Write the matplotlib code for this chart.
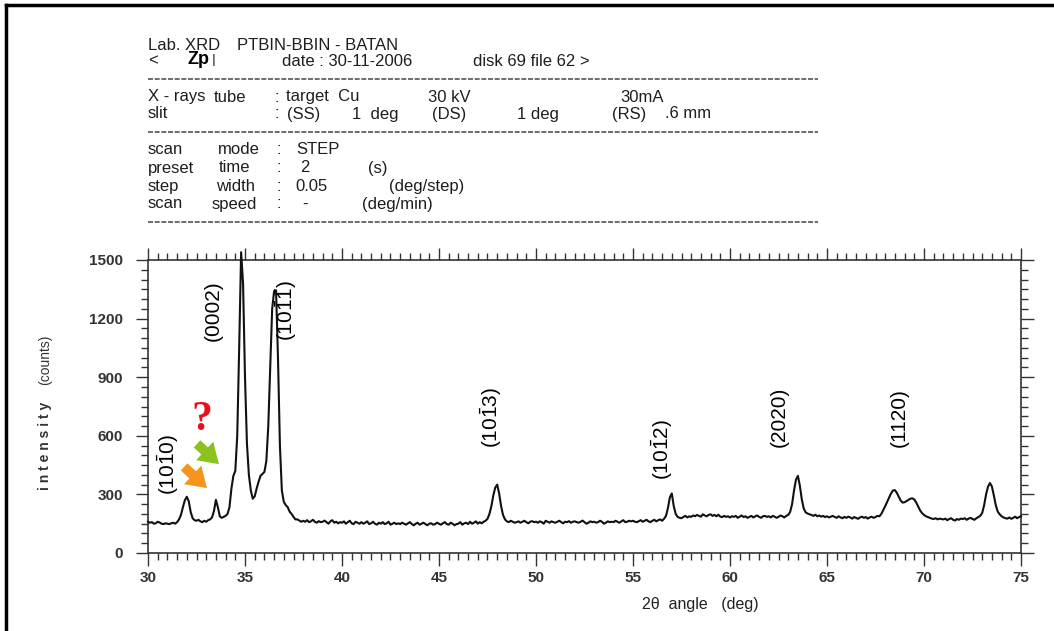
import numpy as np
import matplotlib
matplotlib.use("Agg")
import matplotlib.pyplot as plt
from matplotlib.ticker import MultipleLocator

plt.rcParams['font.family'] = ['Liberation Sans', 'DejaVu Sans']
plt.rcParams['mathtext.fontset'] = 'custom'
plt.rcParams['mathtext.rm'] = 'Liberation Sans'

# ---------------- data ----------------
angle_start = 30.0
angle_step = 0.1
intensity = [
    # 30.0 - 30.9
    160, 155, 158, 150, 152, 160, 156, 150, 148, 152,
    # 31.0 - 31.9
    150, 148, 152, 155, 150, 158, 172, 195, 235, 270,
    # 32.0 - 32.9
    288, 265, 210, 178, 168, 165, 170, 162, 158, 165,
    # 33.0 - 33.9
    160, 168, 172, 182, 215, 272, 235, 188, 180, 185,
    # 34.0 - 34.9
    190, 200, 235, 330, 395, 420, 600, 1050, 1540, 1380,
    # 35.0 - 35.9
    900, 560, 400, 320, 278, 290, 330, 365, 395, 405,
    # 36.0 - 36.9
    415, 470, 650, 950, 1250, 1340, 1345, 1000, 550, 320,
    # 37.0 - 37.9
    262, 245, 235, 212, 200, 185, 172, 172, 166, 160,
    # 38.0 - 38.9
    165, 160, 168, 158, 162, 170, 160, 155, 163, 158,
    # 39.0 - 39.9
    160, 166, 158, 150, 162, 168, 155, 160, 152, 158,
    # 40.0 - 40.9
    155, 162, 150, 158, 165, 152, 148, 160, 155, 150,
    # 41.0 - 41.9
    158, 150, 155, 162, 148, 152, 160, 150, 145, 155,
    # 42.0 - 42.9
    150, 158, 148, 152, 160, 145, 150, 155, 148, 152,
    # 43.0 - 43.9
    148, 155, 150, 145, 152, 158, 148, 142, 150, 155,
    # 44.0 - 44.9
    145, 150, 155, 148, 142, 150, 152, 145, 148, 155,
    # 45.0 - 45.9
    150, 145, 152, 158, 148, 145, 155, 150, 142, 148,
    # 46.0 - 46.9
    150, 158, 145, 152, 155, 148, 160, 150, 155, 162,
    # 47.0 - 47.9
    150, 158, 152, 160, 165, 175, 200, 240, 295, 335,
    # 48.0 - 48.9
    350, 305, 240, 195, 172, 162, 158, 165, 160, 155,
    # 49.0 - 49.9
    158, 162, 155, 160, 165, 158, 152, 160, 163, 158,
    # 50.0 - 50.9
    160, 155, 162, 158, 150, 165, 160, 155, 162, 158,
    # 51.0 - 51.9
    155, 160, 165, 158, 152, 160, 158, 163, 155, 160,
    # 52.0 - 52.9
    162, 158, 155, 160, 166, 158, 150, 155, 162, 158,
    # 53.0 - 53.9
    160, 155, 158, 165, 160, 150, 155, 162, 158, 160,
    # 54.0 - 54.9
    158, 165, 160, 155, 162, 168, 158, 160, 165, 162,
    # 55.0 - 55.9
    165, 160, 158, 163, 168, 160, 165, 170, 162, 158,
    # 56.0 - 56.9
    165, 170, 162, 168, 172, 165, 175, 190, 230, 285,
    # 57.0 - 57.9
    305, 240, 200, 185, 180, 178, 185, 190, 182, 188,
    # 58.0 - 58.9
    185, 192, 188, 195, 190, 186, 198, 192, 188, 195,
    # 59.0 - 59.9
    198, 190, 195, 188, 196, 186, 184, 190, 185, 188,
    # 60.0 - 60.9
    182, 188, 185, 190, 180, 186, 192, 184, 188, 180,
    # 61.0 - 61.9
    185, 190, 182, 188, 192, 185, 180, 188, 190, 185,
    # 62.0 - 62.9
    188, 182, 190, 186, 180, 185, 192, 188, 182, 190,
    # 63.0 - 63.9
    195, 210, 250, 320, 375, 395, 345, 275, 228, 208,
    # 64.0 - 64.9
    202, 198, 195, 190, 196, 188, 192, 186, 190, 184,
    # 65.0 - 65.9
    188, 182, 186, 190, 184, 180, 188, 182, 178, 185,
    # 66.0 - 66.9
    180, 186, 182, 176, 184, 180, 175, 182, 186, 180,
    # 67.0 - 67.9
    184, 176, 182, 186, 180, 184, 190, 188, 200, 220,
    # 68.0 - 68.9
    240, 262, 285, 305, 320, 322, 308, 288, 268, 258,
    # 69.0 - 69.9
    260, 266, 272, 278, 280, 274, 258, 238, 218, 204,
    # 70.0 - 70.9
    195, 188, 184, 180, 176, 174, 178, 172, 176, 174,
    # 71.0 - 71.9
    172, 176, 168, 174, 178, 170, 166, 174, 170, 176,
    # 72.0 - 72.9
    174, 178, 170, 176, 180, 174, 170, 178, 184, 190,
    # 73.0 - 73.9
    205, 245, 300, 340, 358, 340, 295, 245, 212, 198,
    # 74.0 - 74.9
    188, 182, 178, 176, 182, 175, 180, 186, 178, 184,
    # 75.0
    188,
]
two_theta = angle_start + angle_step * np.arange(len(intensity))

x_ticks = [30, 35, 40, 45, 50, 55, 60, 65, 70, 75]
y_ticks = [0, 300, 600, 900, 1200, 1500]

peak_labels = ["(10$\\bar{\\mathrm{1}}$0)", "(0002)", "(10$\\bar{\\mathrm{1}}\\bar{\\mathrm{1}}$)",
               "(10$\\bar{\\mathrm{1}}$3)", "(10$\\bar{\\mathrm{1}}$2)", "(2020)", "(1120)"]
peak_label_x = [31.05, 33.35, 37.1, 47.7, 56.5, 62.55, 68.75]
peak_label_y = [455, 1240, 1240, 695, 530, 695, 695]

# ---------------- figure ----------------
W, H = 1054, 631
fig = plt.figure(figsize=(W / 100, H / 100), dpi=100)
fig.patch.set_facecolor('white')


def fp(x, y):
    return (x / W, 1 - y / H)


ax = fig.add_axes([148 / W, (H - 553) / H, (1021 - 148) / W, (553 - 260) / H])
ax.plot(two_theta, intensity, color='#111111', lw=1.5, clip_on=False, zorder=3)
ax.set_xlim(30, 75)
ax.set_ylim(0, 1500)
ax.set_xticks(x_ticks)
ax.set_yticks(y_ticks)
ax.xaxis.set_minor_locator(MultipleLocator(0.5))
ax.yaxis.set_minor_locator(MultipleLocator(50))
ax.tick_params(which='both', direction='out', top=True, right=True,
               color='#333333', width=1.0)
ax.tick_params(which='major', length=9)
ax.tick_params(which='minor', length=5)
ax.tick_params(axis='x', which='major', labelsize=11, pad=4, labelcolor='#333333')
ax.tick_params(axis='y', which='major', labelsize=11, pad=9, labelcolor='#333333')
for lab in ax.get_xticklabels() + ax.get_yticklabels():
    lab.set_fontweight('bold')
for s in ax.spines.values():
    s.set_color('#333333')
    s.set_linewidth(1.2)
ax.set_facecolor('white')

# axis labels
fig.text(*fp(700, 604), "2θ  angle   (deg)", ha='center', va='center',
         fontsize=11.5, color='#222222')
fig.text(*fp(45, 446), "i n t e n s i t y", rotation=90, ha='center', va='center',
         fontsize=10, color='#333333', fontweight='bold')
fig.text(*fp(45, 360), "(counts)", rotation=90, ha='center', va='center',
         fontsize=10, color='#333333')

# peak labels
for lbl, px, py in zip(peak_labels, peak_label_x, peak_label_y):
    ax.text(px, py, lbl, rotation=90, ha='center', va='center', fontsize=15,
            color='black')

# question mark and arrows
fig.text(*fp(202, 420), "?", ha='center', va='center', fontsize=30,
         fontweight='bold', color='#e8101a', family=['Liberation Serif', 'DejaVu Serif'])
arrow_kw = dict(arrowstyle='simple,head_width=1.3,head_length=1.0,tail_width=0.5',
                lw=0)
fig.patches.append(matplotlib.patches.FancyArrowPatch(
    fp(195, 442), fp(221, 466), transform=fig.transFigure,
    mutation_scale=14, color='#8cc21e', **arrow_kw))
fig.patches.append(matplotlib.patches.FancyArrowPatch(
    fp(182, 465), fp(209, 490), transform=fig.transFigure,
    mutation_scale=14, color='#f7941d', **arrow_kw))

# ---------------- header ----------------
hc = '#1e1e1e'
hfs = 12


def ht(x, y, s, **kw):
    d = dict(ha='left', va='center', fontsize=hfs, color=hc)
    d.update(kw)
    fig.text(*fp(x, y), s, **d)


ht(148, 45, "Lab. XRD")
ht(237, 45, "PTBIN-BBIN - BATAN")
ht(148, 61, "<")
ht(188, 59, "Zp", fontweight='bold', fontsize=13, color='black')
ht(212, 62, "l", color='#555555')
ht(282, 61, "date : 30-11-2006")
ht(473, 61, "disk 69 file 62 >")

ht(148, 97, "X - rays")
ht(214, 97, "tube")
ht(274, 97, ":")
ht(286, 97, "target  Cu")
ht(428, 97, "30 kV")
ht(620, 97, "30mA")

ht(148, 114, "slit")
ht(274, 114, ":")
ht(287, 114, "(SS)")
ht(352, 114, "1  deg")
ht(432, 114, "(DS)")
ht(517, 114, "1 deg")
ht(612, 114, "(RS)")
ht(665, 114, ".6 mm")

ht(148, 150, "scan")
ht(218, 150, "mode")
ht(276, 150, ":")
ht(296, 150, "STEP")

ht(148, 168, "preset")
ht(219, 168, "time")
ht(276, 168, ":")
ht(300, 168, "2")
ht(368, 168, "(s)")

ht(148, 186, "step")
ht(216, 186, "width")
ht(276, 186, ":")
ht(295, 186, "0.05")
ht(389, 186, "(deg/step)")

ht(148, 204, "scan")
ht(212, 204, "speed")
ht(276, 204, ":")
ht(302, 204, "-")
ht(362, 204, "(deg/min)")

for yy in (79, 132, 222):
    fig.add_artist(plt.Line2D([148 / W, 818 / W], [1 - yy / H, 1 - yy / H],
                              transform=fig.transFigure, color='#555555',
                              lw=1.2, linestyle=(0, (3, 1))))

# page border
fig.add_artist(plt.Line2D([6 / W, 1], [1 - 5 / H, 1 - 5 / H], transform=fig.transFigure,
                          color='black', lw=2.5))
fig.add_artist(plt.Line2D([6 / W, 6 / W], [0, 1 - 5 / H], transform=fig.transFigure,
                          color='black', lw=2.5))

fig.savefig("out.png", dpi=100, facecolor='white')
